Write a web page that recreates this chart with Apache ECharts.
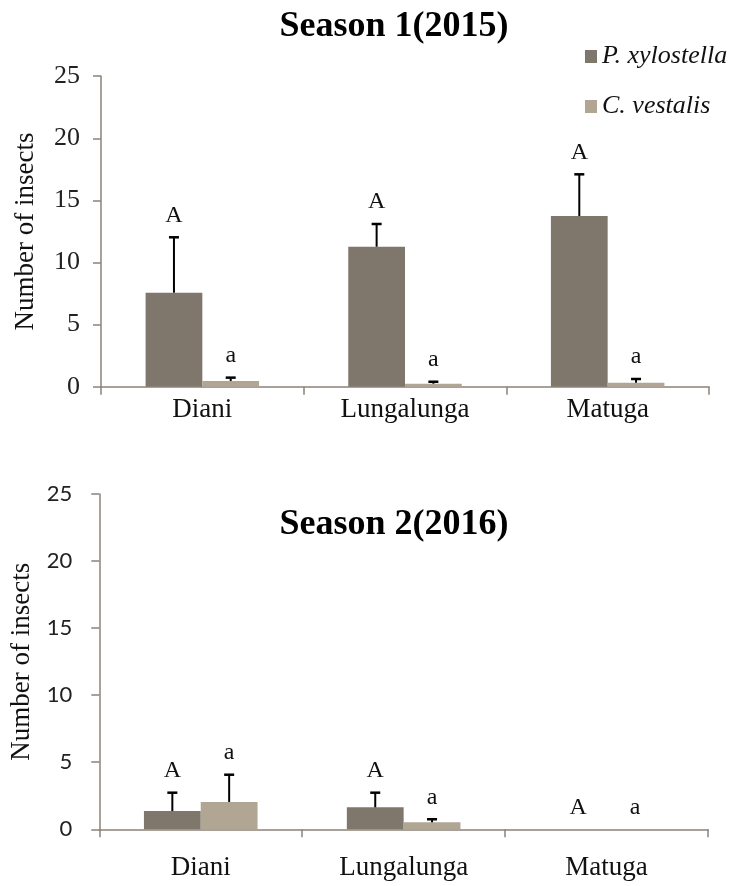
<!DOCTYPE html>
<html>
<head>
<meta charset="utf-8">
<script src="https://cdn.jsdelivr.net/npm/echarts@6/dist/echarts.min.js"></script>
<style>html,body{margin:0;padding:0;background:#fff;}#c{width:732px;height:886px;}</style>
</head>
<body>
<div id="c"></div>
<script>
// ---- data ----
const categories = ['Diani', 'Lungalunga', 'Matuga'];
const seriesNames = ['P. xylostella', 'C. vestalis'];
const yTicks = [0, 5, 10, 15, 20, 25];
// Season 1 (2015)
const s1Px = [7.57, 11.27, 13.74];
const s1PxErr = [4.46, 1.83, 3.36];
const s1Cv = [0.46, 0.24, 0.32];
const s1CvErr = [0.27, 0.16, 0.30];
const s1PxLetters = ['A', 'A', 'A'];
const s1CvLetters = ['a', 'a', 'a'];
// Season 2 (2016)
const s2Px = [1.36, 1.64, 0];
const s2PxErr = [1.37, 1.09, 0];
const s2Cv = [2.04, 0.52, 0];
const s2CvErr = [2.03, 0.23, 0];
const s2PxLetters = ['A', 'A', 'A'];
const s2CvLetters = ['a', 'a', 'a'];

// ---- styling ----
const colP = '#7f776b';
const colC = '#b1a594';
const axisCol = '#8c8278';
const serif = '"Liberation Serif", "Times New Roman", serif';
const BAR_FRAC = 0.28;

function errData(vals, errs) { return vals.map((v, i) => [i, v, errs[i]]); }

function errSeries(vals, errs, side, gi) {
  return {
    type: 'custom', xAxisIndex: gi, yAxisIndex: gi, z: 5, silent: true,
    data: errData(vals, errs), encode: { x: 0, y: 1 },
    renderItem: function (params, api) {
      const e = api.value(2);
      if (!e) return null;
      const band = api.size([1, 0])[0];
      const base = api.coord([api.value(0), api.value(1)]);
      const top = api.coord([api.value(0), api.value(1) + e]);
      const x = base[0] + side * band * BAR_FRAC / 2;
      return { type: 'group', children: [
        { type: 'line', shape: { x1: x, y1: base[1], x2: x, y2: top[1] }, style: { stroke: '#000', lineWidth: 2 } },
        { type: 'line', shape: { x1: x - 5, y1: top[1], x2: x + 5, y2: top[1] }, style: { stroke: '#000', lineWidth: 2.5 } }
      ] };
    }
  };
}
function letterSeries(vals, errs, letters, side, gi) {
  return {
    type: 'custom', xAxisIndex: gi, yAxisIndex: gi, z: 6, silent: true,
    data: errData(vals, errs), encode: { x: 0, y: 1 },
    renderItem: function (params, api) {
      const band = api.size([1, 0])[0];
      const top = api.coord([api.value(0), api.value(1) + api.value(2)]);
      const x = top[0] + side * band * BAR_FRAC / 2;
      return { type: 'text', style: { text: letters[params.dataIndex], x: x, y: top[1] - 22, align: 'center', verticalAlign: 'middle', font: '24px ' + serif, fill: '#111' } };
    }
  };
}

const chart = echarts.init(document.getElementById('c'), null, { renderer: 'canvas' });

function xAx(gi, margin) {
  return {
    type: 'category', gridIndex: gi, data: categories, boundaryGap: true,
    axisLine: { lineStyle: { color: axisCol, width: 1.5 } },
    axisTick: { show: true, alignWithLabel: false, interval: 0, length: 8, lineStyle: { color: axisCol, width: 1.5 } },
    axisLabel: { color: '#111', fontFamily: serif, fontSize: 27, margin: margin, interval: 0 }
  };
}
function yAx(gi, labelFont, labelSize, margin) {
  return {
    type: 'value', gridIndex: gi, min: 0, max: 25, interval: 5,
    name: 'Number of insects', nameLocation: 'middle', nameGap: 62, nameRotate: 90,
    nameTextStyle: { color: '#111', fontFamily: serif, fontSize: 27 },
    axisLine: { show: true, lineStyle: { color: axisCol, width: 1.5 } },
    axisTick: { show: true, inside: false, length: 8, lineStyle: { color: axisCol, width: 1.5 } },
    splitLine: { show: false },
    axisLabel: { color: '#222', fontFamily: labelFont, fontSize: labelSize, margin: margin,
      formatter: v => yTicks.includes(v) ? String(v) : '' }
  };
}

const option = {
  animation: false,
  backgroundColor: '#fff',
  title: [
    { text: 'Season 1(2015)', left: 389, top: 4, textAlign: 'center',
      textStyle: { fontFamily: serif, fontWeight: 'bold', fontSize: 36, color: '#000' } },
    { text: 'Season 2(2016)', left: 389, top: 502, textAlign: 'center',
      textStyle: { fontFamily: serif, fontWeight: 'bold', fontSize: 36, color: '#000' } }
  ],
  legend: {
    data: seriesNames, orient: 'vertical', left: 580, top: 38, itemGap: 23,
    itemWidth: 12, itemHeight: 13, icon: 'rect', selectedMode: false,
    textStyle: { fontFamily: serif, fontStyle: 'italic', fontSize: 26, lineHeight: 27, color: '#111' }
  },
  grid: [
    { left: 101, right: 23, top: 76.2, bottom: 886 - 386.7 },
    { left: 99.3, right: 24, top: 494, bottom: 886 - 829.3 }
  ],
  xAxis: [xAx(0, 10), xAx(1, 25)],
  yAxis: [yAx(0, serif, 26, 21), yAx(1, 'Lato, "Open Sans", sans-serif', 22, 27)],
  series: [
    { name: seriesNames[0], type: 'bar', xAxisIndex: 0, yAxisIndex: 0, data: s1Px, barWidth: '28%', barGap: '0%', itemStyle: { color: colP } },
    { name: seriesNames[1], type: 'bar', xAxisIndex: 0, yAxisIndex: 0, data: s1Cv, barWidth: '28%', barGap: '0%', itemStyle: { color: colC } },
    { name: seriesNames[0], type: 'bar', xAxisIndex: 1, yAxisIndex: 1, data: s2Px, barWidth: '28%', barGap: '0%', itemStyle: { color: colP } },
    { name: seriesNames[1], type: 'bar', xAxisIndex: 1, yAxisIndex: 1, data: s2Cv, barWidth: '28%', barGap: '0%', itemStyle: { color: colC } },
    errSeries(s1Px, s1PxErr, -1, 0),
    errSeries(s1Cv, s1CvErr, 1, 0),
    errSeries(s2Px, s2PxErr, -1, 1),
    errSeries(s2Cv, s2CvErr, 1, 1),
    letterSeries(s1Px, s1PxErr, s1PxLetters, -1, 0),
    letterSeries(s1Cv, s1CvErr, s1CvLetters, 1, 0),
    letterSeries(s2Px, s2PxErr, s2PxLetters, -1, 1),
    letterSeries(s2Cv, s2CvErr, s2CvLetters, 1, 1)
  ]
};
chart.setOption(option);
</script>
</body>
</html>
